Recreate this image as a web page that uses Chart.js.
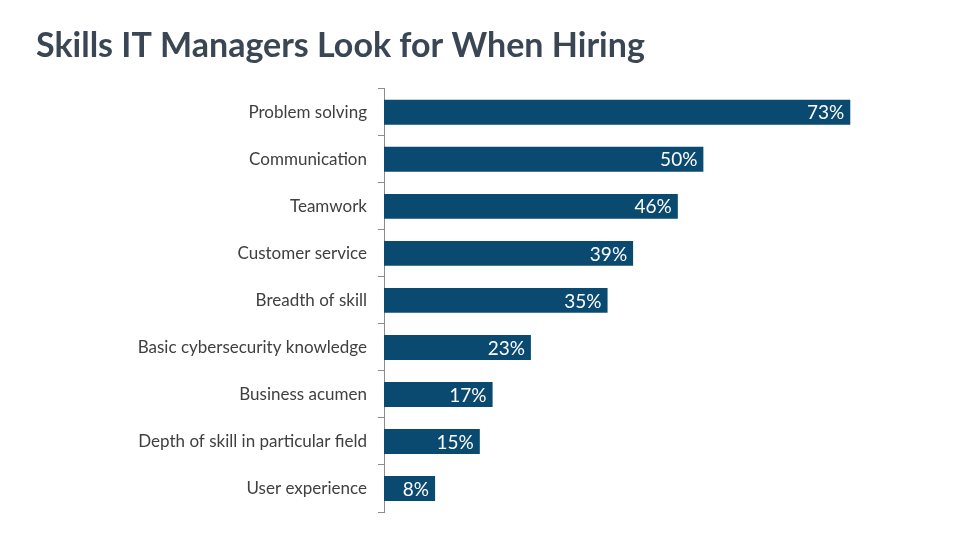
<!DOCTYPE html>
<html>
<head>
<meta charset="utf-8">
<script src="https://cdn.jsdelivr.net/npm/chart.js@4"></script>
<style>
  html, body { margin: 0; padding: 0; background: #fff; }
  #wrap { width: 960px; height: 540px; position: relative; }
</style>
</head>
<body>
<div id="wrap"><canvas id="skillsChart" width="960" height="540"></canvas></div>
<script>
const skills = [
    'Problem solving',
    'Communication',
    'Teamwork',
    'Customer service',
    'Breadth of skill',
    'Basic cybersecurity knowledge',
    'Business acumen',
    'Depth of skill in particular field',
    'User experience'
];
const shares = [73, 50, 46, 39, 35, 23, 17, 15, 8];

const barColor = '#0a4a70';
const fontFamily = 'Lato, "Open Sans", sans-serif';

// draws the white "73%" labels at the inner end of each bar
const barLabels = {
    id: 'barLabels',
    afterDatasetsDraw(chart) {
        const ctx = chart.ctx;
        const meta = chart.getDatasetMeta(0);
        ctx.save();
        ctx.fillStyle = '#ffffff';
        ctx.font = '19px ' + fontFamily;
        ctx.textAlign = 'right';
        ctx.textBaseline = 'middle';
        meta.data.forEach((bar, i) => {
            ctx.fillText(shares[i] + '%', bar.x - 6, bar.y + 1);
        });
        ctx.restore();
    }
};

new Chart(document.getElementById('skillsChart'), {
    type: 'bar',
    data: {
        labels: skills,
        datasets: [{
            data: shares,
            backgroundColor: barColor,
            barPercentage: 0.53,
            categoryPercentage: 1.0
        }]
    },
    options: {
        indexAxis: 'y',
        responsive: false,
        animation: false,
        layout: {
            padding: { left: 36, right: 65, top: 0, bottom: 28 }
        },
        scales: {
            x: {
                display: false,
                min: 0,
                max: 80
            },
            y: {
                afterFit(scale) { scale.width = 348; },
                grid: {
                    offset: true,
                    drawOnChartArea: false,
                    drawTicks: true,
                    tickLength: 6,
                    color: '#8c8c8c'
                },
                border: { display: true, color: '#8c8c8c' },
                ticks: {
                    padding: 11,
                    color: '#404040',
                    font: { family: fontFamily, size: 17 }
                }
            }
        },
        plugins: {
            legend: { display: false },
            tooltip: { enabled: false },
            title: {
                display: true,
                text: 'Skills IT Managers Look for When Hiring',
                align: 'start',
                color: '#3a4654',
                font: { family: fontFamily, size: 34, weight: 'bold' },
                padding: { top: 26, bottom: 22 }
            }
        }
    },
    plugins: [barLabels]
});
</script>
</body>
</html>
